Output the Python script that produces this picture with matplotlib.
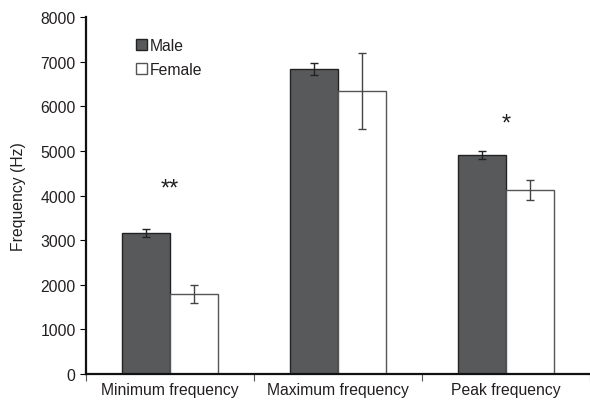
import matplotlib
matplotlib.use("Agg")
import matplotlib.pyplot as plt
import numpy as np

plt.rcParams["font.family"] = ["Liberation Sans", "DejaVu Sans"]

CATEGORIES  = ["Minimum frequency", "Maximum frequency", "Peak frequency"]
MALE        = [3170, 6835, 4900]
MALE_ERR    = [90, 135, 90]
FEMALE      = [1800, 6345, 4130]
FEMALE_ERR  = [200, 855, 230]
SIG_LABELS  = ["**", "", "*"]
SIG_Y       = [4150, None, 5620]

TEXT = "#231f20"

fig = plt.figure(figsize=(5.9, 4.02), dpi=100)
ax = fig.add_axes([0.146, 0.067, 0.854, 0.888])

x = np.arange(len(CATEGORIES))
w = 0.286

ax.bar(x - w / 2, MALE, w, color="#58595b", edgecolor="#222222", linewidth=1.0,
       label="Male", zorder=2)
ax.bar(x + w / 2, FEMALE, w, color="white", edgecolor="#555555", linewidth=1.0,
       label="Female", zorder=2)
ax.errorbar(x - w / 2, MALE, yerr=MALE_ERR, fmt="none", ecolor="#222222",
            elinewidth=1.0, capsize=3, capthick=1.0, zorder=3)
ax.errorbar(x + w / 2, FEMALE, yerr=FEMALE_ERR, fmt="none", ecolor="#444444",
            elinewidth=1.0, capsize=3, capthick=1.0, zorder=3)

for xi, lab, yv in zip(x, SIG_LABELS, SIG_Y):
    if lab:
        ax.text(xi, yv, lab, ha="center", va="center", fontsize=17, color=TEXT)

ax.set_xlim(-0.5, 2.5)
ax.set_ylim(0, 8000)
ax.set_yticks(np.arange(0, 8001, 1000))
ax.tick_params(axis="y", labelsize=11.3, labelcolor=TEXT, length=4, width=0.8)

ax.set_xticks(x)
ax.set_xticklabels(CATEGORIES, fontsize=11.3, color=TEXT)
ax.tick_params(axis="x", length=0, pad=6)
ax.set_xticks([-0.5, 0.5, 1.5, 2.5], minor=True)
ax.tick_params(axis="x", which="minor", length=5, width=0.8, color="#555555")

ax.set_ylabel("Frequency (Hz)", fontsize=11.3, color=TEXT, labelpad=10)

for s in ["top", "right"]:
    ax.spines[s].set_visible(False)
for s in ["left", "bottom"]:
    ax.spines[s].set_linewidth(1.6)
    ax.spines[s].set_color("#111111")

ax.legend(loc="upper left", bbox_to_anchor=(0.07, 0.98), frameon=False,
          fontsize=11.3, handlelength=0.7, handleheight=0.7, handletextpad=0.2,
          labelspacing=0.55, labelcolor=TEXT)

fig.savefig("out.png", dpi=100)
